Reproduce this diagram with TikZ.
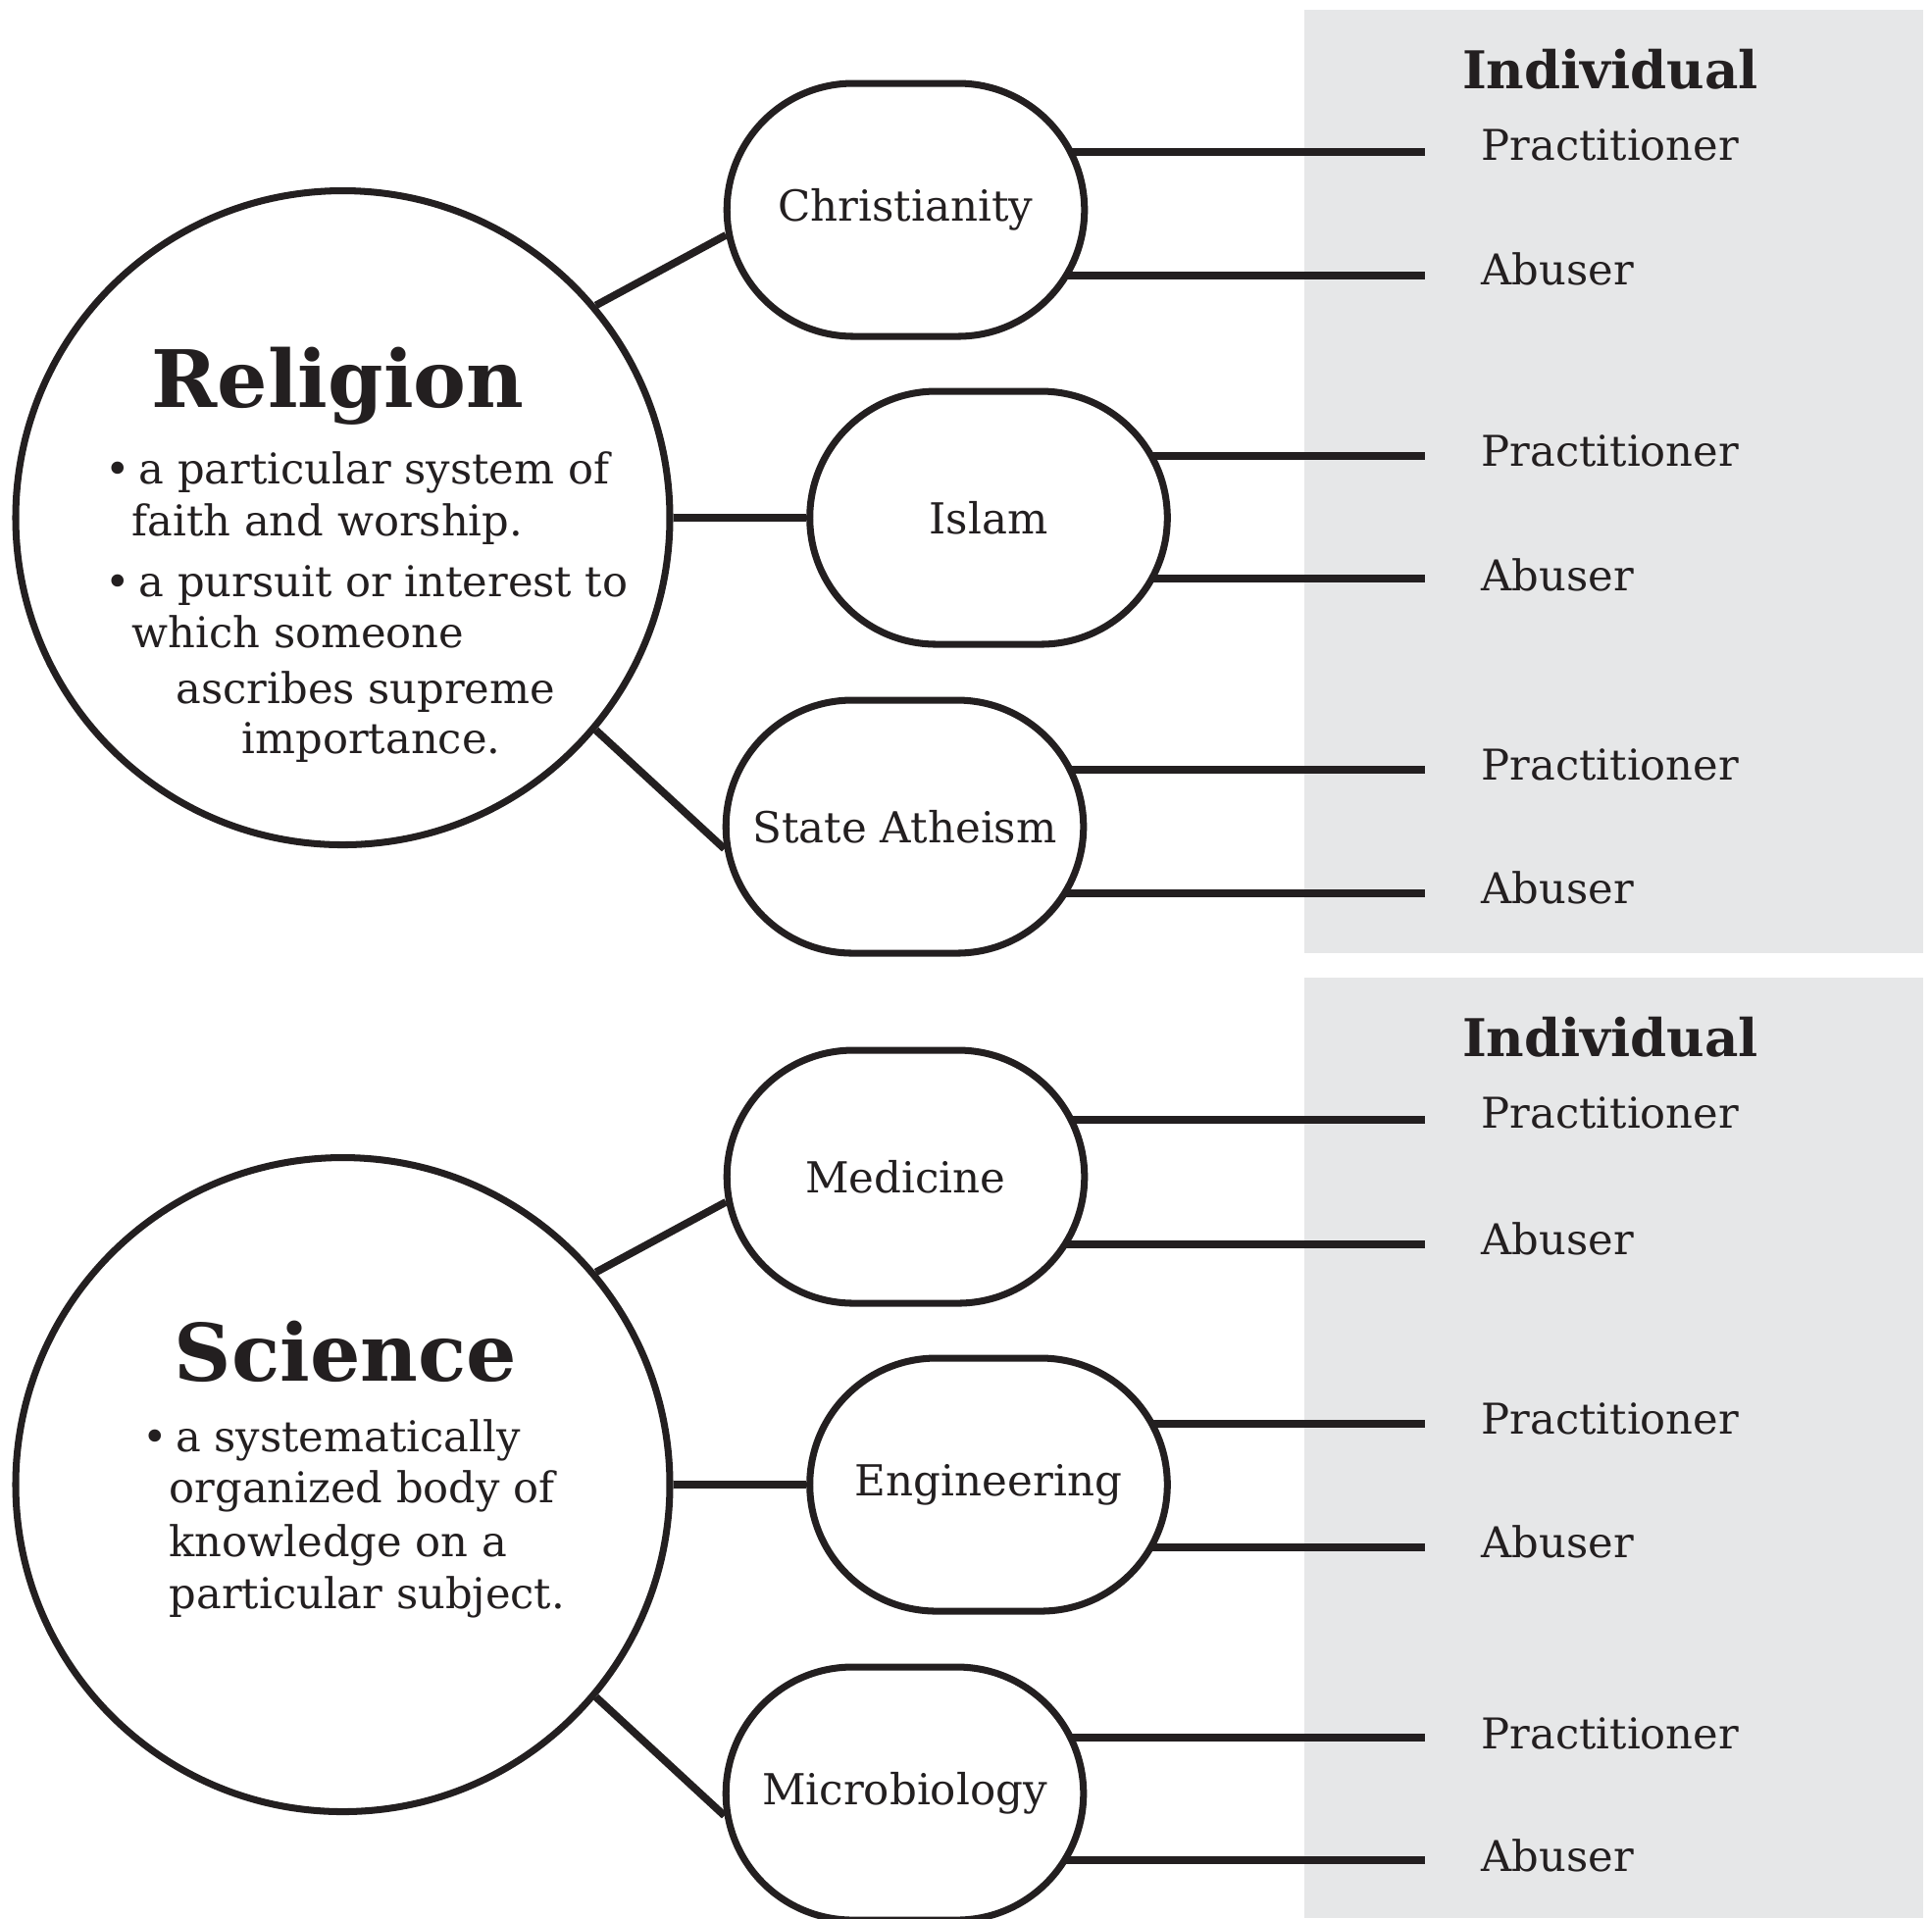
\documentclass[tikz,border=0pt]{standalone}
\usepackage{fontspec}
\setmainfont{DejaVu Serif}
\usetikzlibrary{shapes.misc,positioning,calc,backgrounds}
\definecolor{inchiostro}{RGB}{35,31,32}
\definecolor{grigio}{RGB}{230,231,232}
\tikzstyle{tema} = [circle, minimum size=6.67cm, draw=inchiostro, line width=2pt, fill=white]
\tikzstyle{ramo} = [rounded rectangle, minimum width=3.88cm, minimum height=2.58cm, draw=inchiostro, line width=2pt, fill=white, text=inchiostro, font=\fontsize{12.4}{14}\selectfont]
\tikzstyle{titolo} = [text=inchiostro, font=\bfseries\fontsize{23}{27}\selectfont, anchor=base, inner sep=0pt]
\tikzstyle{gruppo} = [text=inchiostro, font=\bfseries\fontsize{15.1}{18}\selectfont, anchor=base, inner sep=0pt]
\tikzstyle{voce} = [text=inchiostro, font=\fontsize{12.3}{14}\selectfont, anchor=base west, inner sep=0pt]
\tikzstyle{linea} = [draw=inchiostro, line width=2.2pt]

\begin{document}
\begin{tikzpicture}
\useasboundingbox (0,0) rectangle (19.70,-19.56);
% religione
\node (t1) at (3.495,-5.28) [tema] {};
\node (r1) at (9.235,-2.14) [ramo] {Christianity};
\node (r2) at (10.08,-5.28) [ramo] {Islam};
\node (r3) at (9.225,-8.43) [ramo] {State Atheism};
\draw[linea] (t1.40) -- (r1.188);
\draw[linea] (t1.east) -- (r2.west);
\draw[linea] (t1.-40) -- (r3.187);
\node (h1) at (3.445,-4.15) [titolo] {Religion};
\node (d1) at (1.07,-4.93) [voce] {\makebox[0.34cm][l]{•}a particular system of};
\node (d2) at (1.34,-5.46) [voce] {faith and worship.};
\node (d3) at (1.07,-6.08) [voce] {\makebox[0.34cm][l]{•}a pursuit or interest to};
\node (d4) at (1.34,-6.60) [voce] {which someone};
\node (d5) at (1.79,-7.17) [voce] {ascribes supreme};
\node (d6) at (2.46,-7.68) [voce] {importance.};
% scienza
\node (t2) at (3.495,-15.14) [tema] {};
\node (r4) at (9.235,-12.00) [ramo] {Medicine};
\node (r5) at (10.08,-15.14) [ramo] {Engineering};
\node (r6) at (9.225,-18.29) [ramo] {Microbiology};
\draw[linea] (t2.40) -- (r4.188);
\draw[linea] (t2.east) -- (r5.west);
\draw[linea] (t2.-40) -- (r6.187);
\node (h2) at (3.525,-14.08) [titolo] {Science};
\node (d7) at (1.45,-14.80) [voce] {\makebox[0.336cm][l]{•}a systematically};
\node (d8) at (1.72,-15.32) [voce] {organized body of};
\node (d9) at (1.72,-15.87) [voce] {knowledge on a};
\node (d10) at (1.72,-16.40) [voce] {particular subject.};
% individui
\node (g1) at (16.42,-0.90) [gruppo] {Individual};
\node (g2) at (16.42,-10.77) [gruppo] {Individual};
\coordinate (c1) at (14.53,-1.55);
\coordinate (c2) at (14.53,-2.81);
\coordinate (c3) at (14.53,-4.65);
\coordinate (c4) at (14.53,-5.90);
\coordinate (c5) at (14.53,-7.85);
\coordinate (c6) at (14.53,-9.11);
\coordinate (c7) at (14.53,-11.42);
\coordinate (c8) at (14.53,-12.69);
\coordinate (c9) at (14.53,-14.52);
\coordinate (c10) at (14.53,-15.78);
\coordinate (c11) at (14.53,-17.72);
\coordinate (c12) at (14.53,-18.97);
\node (p1) at (15.10,-1.63) [voce] {Practitioner};
\node (a1) at (15.10,-2.90) [voce] {Abuser};
\node (p2) at (15.10,-4.75) [voce] {Practitioner};
\node (a2) at (15.10,-6.02) [voce] {Abuser};
\node (p3) at (15.10,-7.95) [voce] {Practitioner};
\node (a3) at (15.10,-9.21) [voce] {Abuser};
\node (p4) at (15.10,-11.50) [voce] {Practitioner};
\node (a4) at (15.10,-12.79) [voce] {Abuser};
\node (p5) at (15.10,-14.62) [voce] {Practitioner};
\node (a5) at (15.10,-15.88) [voce] {Abuser};
\node (p6) at (15.10,-17.83) [voce] {Practitioner};
\node (a6) at (15.10,-19.08) [voce] {Abuser};
\begin{scope}[on background layer]
\fill[grigio] (13.30,-0.10) rectangle (19.61,-9.72);
\fill[grigio] (13.30,-9.97) rectangle (19.61,-19.56);
\draw[linea] (r1.center |- c1) -- (c1);
\draw[linea] (r1.center |- c2) -- (c2);
\draw[linea] (r2.center |- c3) -- (c3);
\draw[linea] (r2.center |- c4) -- (c4);
\draw[linea] (r3.center |- c5) -- (c5);
\draw[linea] (r3.center |- c6) -- (c6);
\draw[linea] (r4.center |- c7) -- (c7);
\draw[linea] (r4.center |- c8) -- (c8);
\draw[linea] (r5.center |- c9) -- (c9);
\draw[linea] (r5.center |- c10) -- (c10);
\draw[linea] (r6.center |- c11) -- (c11);
\draw[linea] (r6.center |- c12) -- (c12);
\end{scope}
\end{tikzpicture}
\end{document}
